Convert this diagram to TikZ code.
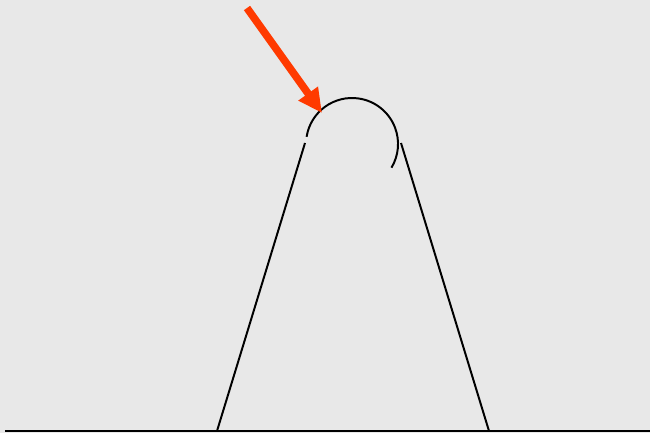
\documentclass[tikz,border=0pt]{standalone}
\usepackage{tikz}
\usepackage{xcolor}
\usetikzlibrary{arrows.meta}
\definecolor{bgray}{HTML}{E8E8E8}
\definecolor{pointer}{HTML}{FF3A00}

\begin{document}
\begin{tikzpicture}[x=0.025cm, y=-0.025cm,
    outline/.style={black, line width=1.4pt, line join=round},
    pointerarrow/.style={pointer, line width=5.4pt, -{Triangle[length=17pt, width=16pt]}}]

  % Background (fixes the page size).
  \fill[bgray] (0,0) rectangle (650,433);
  \useasboundingbox (0,0) rectangle (650,433);

  % Ground line.
  \coordinate (gl) at (5,431);
  \coordinate (gr) at (650,431);
  \draw[outline] (gl) -- (gr);

  % Legs of the shape.
  \coordinate (lt) at (305,143);
  \coordinate (lb) at (217,431);
  \coordinate (rb) at (489,431);
  \coordinate (rt) at (401,143);
  \draw[outline] (lt) -- (lb) -- (rb) -- (rt);

  % Rounded top, curling in at the right.
  \coordinate (arcstart) at (306.6,136.8);
  \draw[outline] (arcstart) arc[start angle=189, end angle=391, radius=46];

  % Pointer.
  \coordinate (tail) at (247,8);
  \coordinate (tip) at (322,113);
  \draw[pointerarrow] (tail) -- (tip);
\end{tikzpicture}
\end{document}
